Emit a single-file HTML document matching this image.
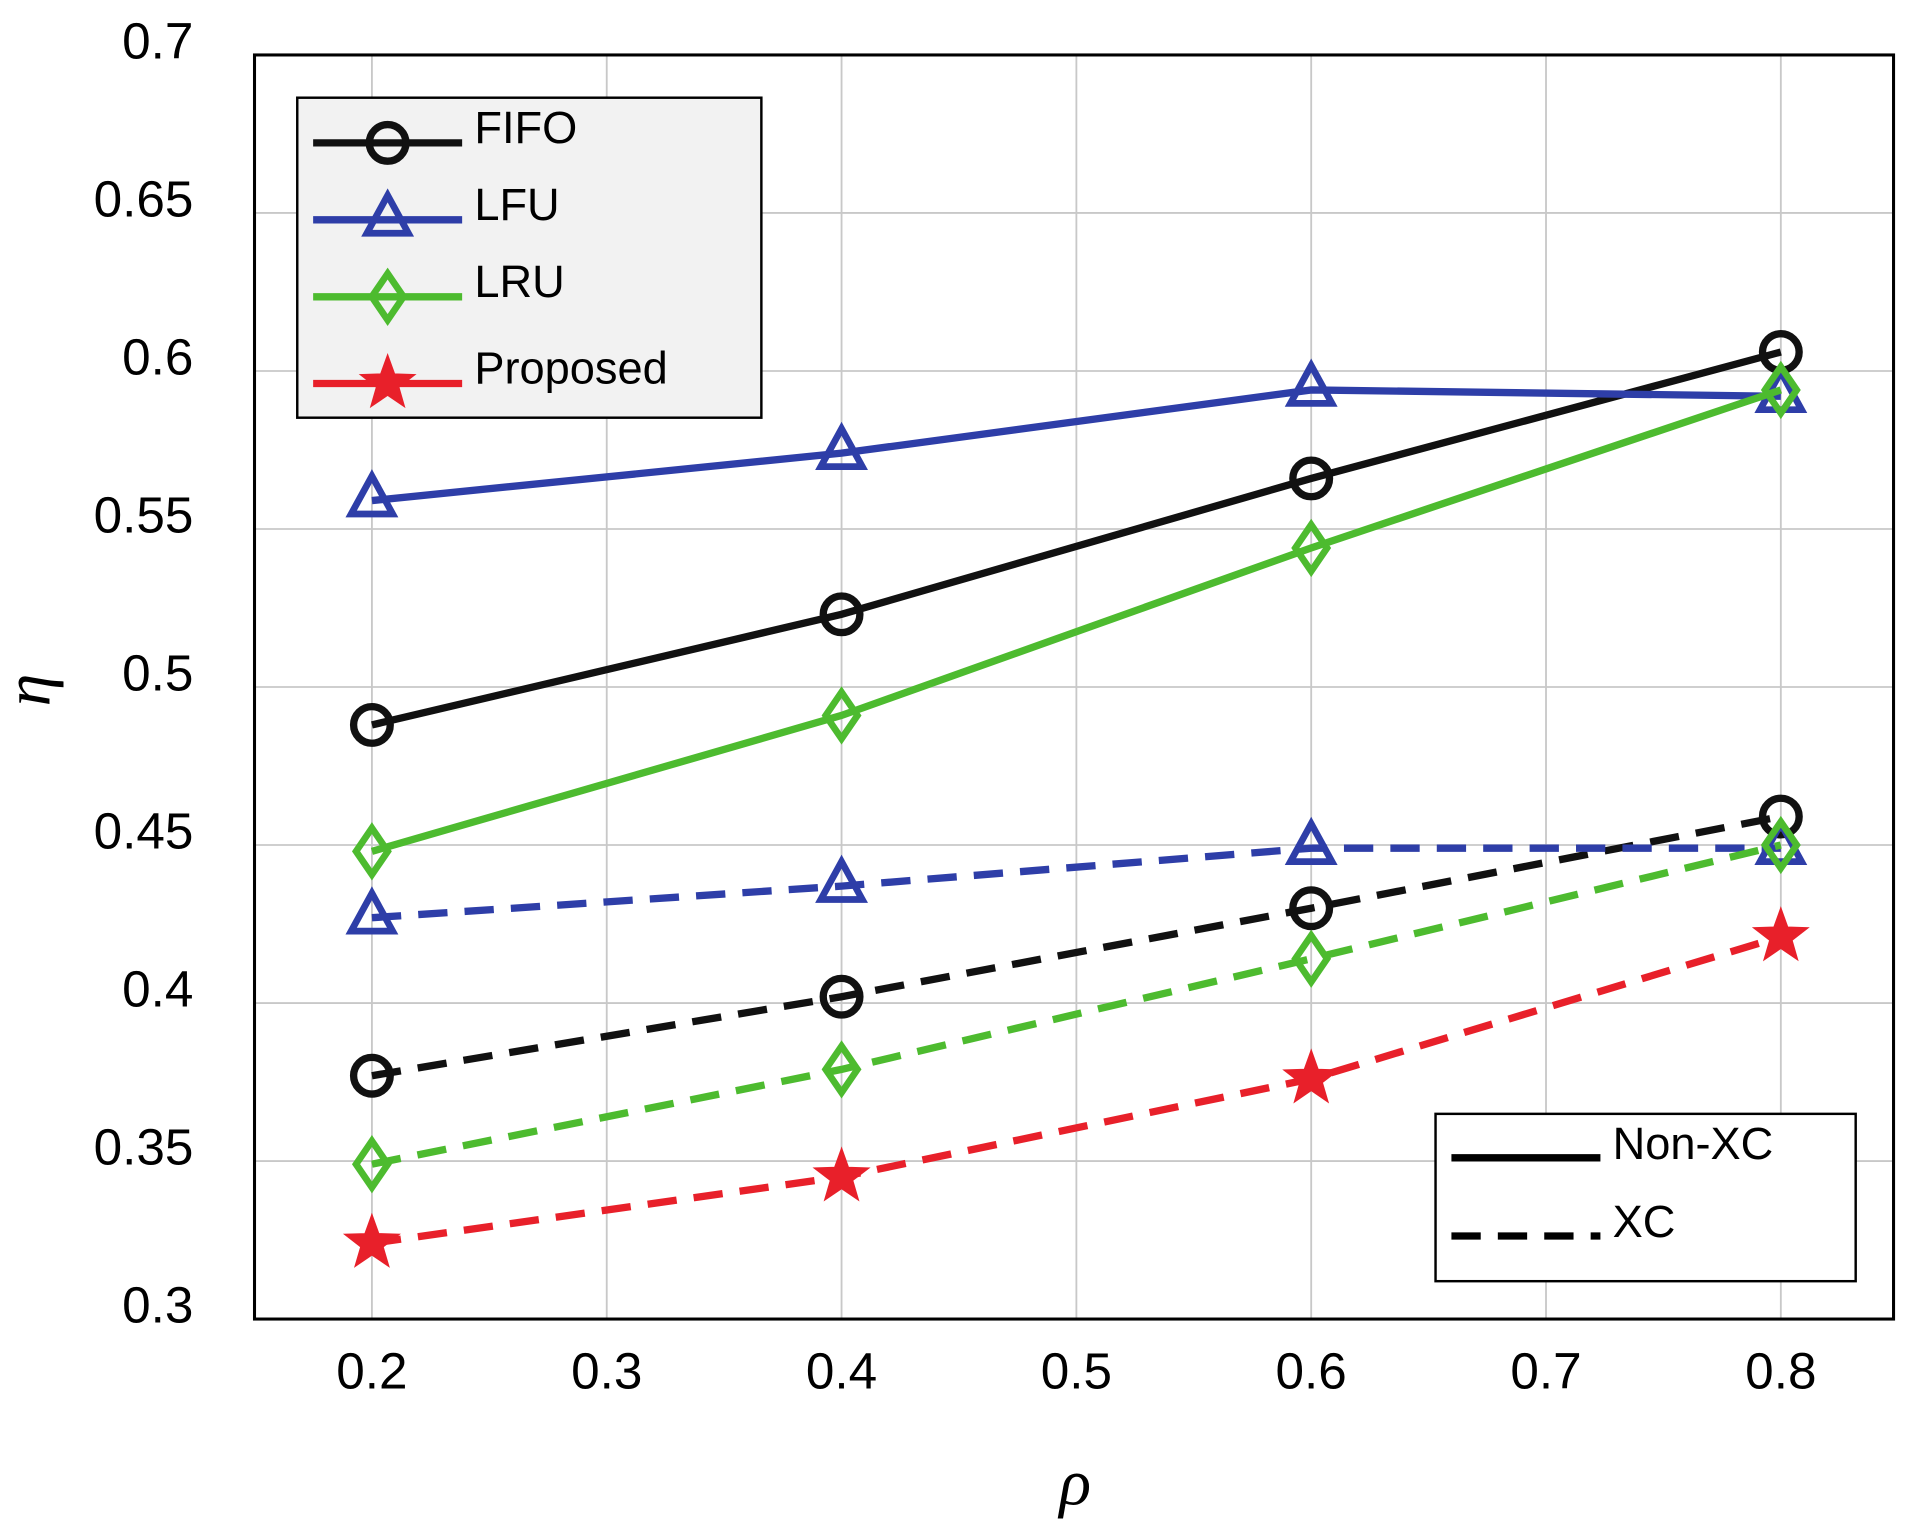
<!DOCTYPE html>
<html><head><meta charset="utf-8"><style>html,body{margin:0;padding:0;background:#fff}svg{display:block}</style></head>
<body>
<svg id="chart" width="1916" height="1534" viewBox="0 0 1568 1256" xmlns="http://www.w3.org/2000/svg" font-family="'Liberation Sans', Arial, sans-serif"></svg>
<script>
const categories = [0.2, 0.4, 0.6, 0.8];
const fifoNonXC = [0.488, 0.523, 0.566, 0.606];
const lfuNonXC = [0.559, 0.574, 0.594, 0.592];
const lruNonXC = [0.448, 0.491, 0.544, 0.594];
const fifoXC = [0.377, 0.402, 0.430, 0.459];
const lfuXC = [0.427, 0.437, 0.449, 0.449];
const lruXC = [0.349, 0.379, 0.414, 0.450];
const proposedXC = [0.324, 0.345, 0.376, 0.421];
const xTicks = [0.2, 0.3, 0.4, 0.5, 0.6, 0.7, 0.8];
const yTicks = [0.3, 0.35, 0.4, 0.45, 0.5, 0.55, 0.6, 0.65, 0.7];

const L=208,R=1550,T=45,B=1080,XMIN=0.15,XMAX=0.848,YMIN=0.3,YMAX=0.7;
const X=v=>L+(v-XMIN)/(XMAX-XMIN)*(R-L);
const Y=v=>B-(v-YMIN)/(YMAX-YMIN)*(B-T);
const svg=document.getElementById('chart');
const NS='http://www.w3.org/2000/svg';
function mk(tag,attrs,parent){const e=document.createElementNS(NS,tag);for(const k in attrs)e.setAttribute(k,attrs[k]);(parent||svg).appendChild(e);return e;}

const grid=mk('g',{});


xTicks.forEach(t=>{
  mk('line',{x1:X(t),x2:X(t),y1:T,y2:B,stroke:'#c8c8c8','stroke-width':1.5},grid);
  const tx=mk('text',{x:X(t),y:B+57,'font-size':42,'text-anchor':'middle',fill:'#000'});
  tx.textContent=String(t);
  
  
});
yTicks.forEach(t=>{
  mk('line',{x1:L,x2:R,y1:Y(t),y2:Y(t),stroke:'#c8c8c8','stroke-width':1.5},grid);
  const tx=mk('text',{x:158,y:Y(t)+3,'font-size':42,'text-anchor':'end',fill:'#000'});
  tx.textContent=String(t);
  
  
});
const frame=mk('rect',{x:L,y:T,width:R-L,height:B-T,fill:'none',stroke:'#000','stroke-width':2.5});



const xl=mk('text',{x:880,y:1232,'font-size':54,'font-style':'italic','font-family':"'Liberation Serif', serif",'text-anchor':'middle'});
xl.textContent='ρ';


const yl=mk('text',{x:40,y:565,'font-size':54,'font-style':'italic','font-family':"'Liberation Serif', serif",'text-anchor':'middle',transform:'rotate(-90 40 565)'});
yl.textContent='η';



function marker(type,x,y,color,parent){
  if(type==='o') return mk('circle',{cx:x,cy:y,r:15,fill:'none',stroke:color,'stroke-width':6},parent);
  if(type==='^') return mk('polygon',{points:`${x},${y-20} ${x+17},${y+11} ${x-17},${y+11}`,fill:'none',stroke:color,'stroke-width':5.5},parent);
  if(type==='d') return mk('polygon',{points:`${x},${y-19} ${x+13},${y} ${x},${y+19} ${x-13},${y}`,fill:'none',stroke:color,'stroke-width':5.5},parent);
  let p=[];for(let i=0;i<10;i++){const r=i%2?9:22,a=-Math.PI/2+i*Math.PI/5;p.push((x+r*Math.cos(a)).toFixed(1)+','+(y+r*Math.sin(a)).toFixed(1));}
  return mk('polygon',{points:p.join(' '),fill:color,stroke:color,'stroke-width':2},parent);
}
const series=[
 ['fifo-non-xc',fifoNonXC,'#111','o',false],
 ['lfu-non-xc',lfuNonXC,'#2e3ea8','^',false],
 ['lru-non-xc',lruNonXC,'#4dbb2f','d',false],
 ['fifo-xc',fifoXC,'#111','o',true],
 ['lfu-xc',lfuXC,'#2e3ea8','^',true],
 ['lru-xc',lruXC,'#4dbb2f','d',true],
 ['proposed-xc',proposedXC,'#e8202a','*',true]];
series.forEach(([name,vals,c,m,dash])=>{
  const g=mk('g',{});
  
  
  const pts=vals.map((v,i)=>X(categories[i])+','+Y(v)).join(' ');
  const pl=mk('polyline',{points:pts,fill:'none',stroke:c,'stroke-width':6,'stroke-dasharray':dash?'24 14':'none'},g);
  
  
  vals.forEach((v,i)=>{const mm=marker(m,X(categories[i]),Y(v),c,g);
    
    });
});

const lg=mk('g',{});


mk('rect',{x:243,y:80,width:380,height:262,fill:'#f2f2f2',stroke:'#000','stroke-width':2},lg);
[['FIFO','#111','o',103],['LFU','#2e3ea8','^',166],['LRU','#4dbb2f','d',229],['Proposed','#e8202a','*',300]].forEach(([t,c,m,y])=>{
  const e=mk('g',{},lg);
  
  
  mk('line',{x1:256,x2:378,y1:y+14,y2:y+14,stroke:c,'stroke-width':6},e);
  marker(m,317,y+14,c,e);
  const tx=mk('text',{x:388,y:y+14,'font-size':37},e);tx.textContent=t;
});
const lg2=mk('g',{});


mk('rect',{x:1175,y:912,width:344,height:137,fill:'#fff',stroke:'#000','stroke-width':2},lg2);
[['Non-XC',948,false],['XC',1012,true]].forEach(([t,y,d])=>{
  const e=mk('g',{},lg2);
  
  
  mk('line',{x1:1188,x2:1310,y1:y,y2:y,stroke:'#000','stroke-width':6,'stroke-dasharray':d?'24 14':'none'},e);
  const tx=mk('text',{x:1320,y:y+1,'font-size':37},e);tx.textContent=t;
});
</script>
</body></html>
